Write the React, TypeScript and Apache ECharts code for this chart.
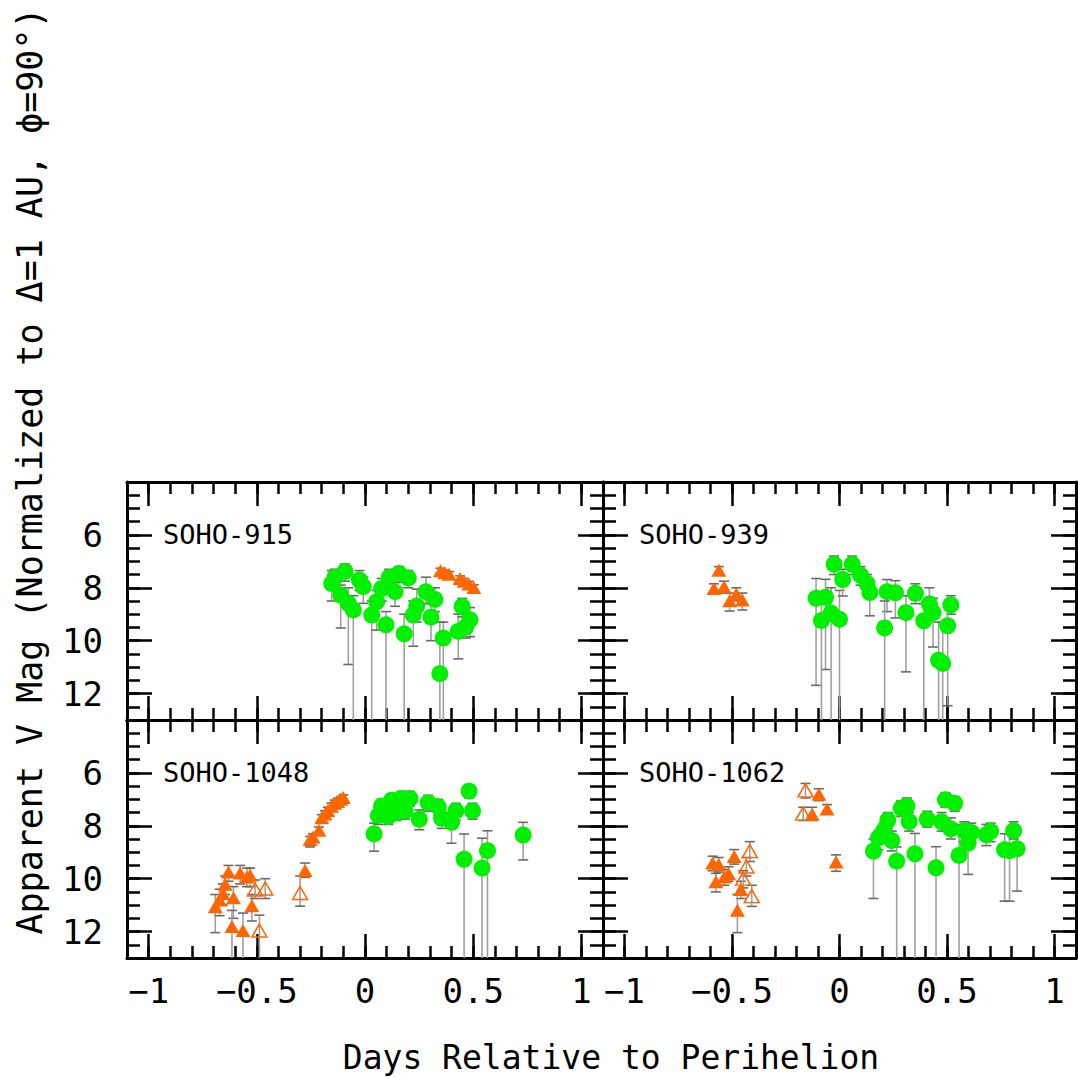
import React, { useEffect, useRef } from "react";
import * as echarts from "echarts";

// ---- data: [day, mag, magBrightBound, magFaintBound] ----
const soho915Green: number[][] = [
  [-0.154, 7.84, 7.35, 8.5], [-0.139, 7.61, 7.3, 8.0], [-0.092, 7.38, 7.1, 7.75],
  [-0.112, 8.28, 7.9, 9.52], [-0.077, 8.59, 8.0, 10.9], [-0.054, 8.84, 8.3, 14],
  [-0.026, 7.71, 7.35, 8.1], [-0.008, 7.96, 7.6, 8.59], [0.031, 9.03, 8.5, 14],
  [0.054, 8.53, 8.1, 9.6], [0.077, 8.03, 7.65, 8.5], [0.097, 9.4, 8.9, 14],
  [0.112, 7.61, 7.3, 8.0], [0.139, 8.15, 7.8, 8.7], [0.157, 7.46, 7.2, 7.8],
  [0.2, 7.63, 7.35, 8.0], [0.181, 9.74, 9.0, 14], [0.223, 9.03, 8.5, 10.21],
  [0.239, 8.69, 8.05, 9.3], [0.282, 8.15, 7.6, 8.6], [0.323, 8.44, 8.0, 8.9],
  [0.305, 9.11, 8.6, 10.0], [0.362, 9.9, 9.3, 14], [0.346, 11.25, 9.3, 14],
  [0.431, 9.65, 9.0, 10.69], [0.449, 8.71, 8.4, 9.1], [0.485, 9.21, 8.75, 9.85],
  [0.465, 9.49, 9.0, 9.9],
];
const soho915Filled: number[][] = [
  [0.349, 7.36, 7.26, 7.46], [0.369, 7.43, 7.33, 7.53], [0.389, 7.49, 7.39, 7.59],
  [0.439, 7.65, 7.55, 7.75], [0.458, 7.75, 7.65, 7.85], [0.48, 7.86, 7.76, 7.96],
  [0.503, 7.99, 7.89, 8.09],
];
const soho915Open: number[][] = [];

const soho939Green: number[][] = [
  [-0.109, 8.4, 7.65, 11.69], [-0.065, 8.36, 7.68, 11.09], [-0.084, 9.24, 8.6, 14],
  [-0.039, 8.96, 8.0, 14], [0.0, 9.19, 8.1, 14], [-0.025, 7.11, 6.8, 7.5],
  [0.015, 7.69, 7.3, 8.31], [0.059, 7.11, 6.8, 7.5], [0.098, 7.53, 7.2, 7.9],
  [0.128, 7.84, 7.5, 8.2], [0.141, 8.18, 7.8, 9.06], [0.221, 8.15, 7.69, 8.9],
  [0.26, 8.19, 7.73, 9.14], [0.21, 9.52, 8.5, 14], [0.309, 8.94, 8.3, 11.18],
  [0.353, 8.21, 7.85, 8.6], [0.418, 8.61, 8.0, 9.2], [0.435, 8.94, 8.4, 10.24],
  [0.392, 9.25, 8.6, 14], [0.461, 10.74, 9.3, 14], [0.48, 10.86, 9.3, 14],
  [0.518, 8.65, 8.3, 9.0], [0.503, 9.44, 8.6, 12.46],
];
const soho939Filled: number[][] = [
  [-0.561, 7.34, 7.2, 7.5], [-0.584, 8.03, 7.85, 8.24], [-0.537, 7.96, 7.75, 8.2],
  [-0.511, 8.49, 8.2, 8.88], [-0.48, 8.24, 8.0, 8.5], [-0.452, 8.46, 8.2, 8.84],
];
const soho939Open: number[][] = [];

const soho1048Green: number[][] = [
  [0.042, 8.31, 7.9, 8.96], [0.062, 7.62, 7.3, 7.95], [0.077, 7.25, 7.0, 7.6],
  [0.085, 7.31, 7.0, 7.65], [0.108, 7.65, 7.35, 7.95], [0.123, 7.03, 6.8, 7.3],
  [0.146, 7.5, 7.2, 7.8], [0.169, 6.97, 6.7, 7.25], [0.185, 7.44, 7.15, 7.75],
  [0.208, 6.97, 6.7, 7.25], [0.251, 7.75, 7.4, 8.15], [0.292, 7.13, 6.85, 7.45],
  [0.338, 7.28, 7.0, 7.6], [0.354, 7.72, 7.4, 8.1], [0.4, 7.87, 7.5, 8.66],
  [0.42, 7.44, 7.15, 7.8], [0.481, 6.69, 6.45, 6.95], [0.497, 7.44, 7.15, 7.75],
  [0.458, 9.27, 8.31, 14], [0.541, 9.6, 8.47, 14], [0.566, 8.94, 8.19, 14],
  [0.731, 8.35, 7.87, 9.29],
];
const soho1048Filled: number[][] = [
  [-0.692, 11.06, 10.6, 12.04], [-0.672, 10.81, 10.4, 11.4], [-0.657, 10.56, 10.2, 11.0],
  [-0.646, 10.21, 9.9, 10.6], [-0.631, 9.75, 9.5, 10.1], [-0.608, 10.72, 10.3, 11.5],
  [-0.615, 11.81, 11.2, 14], [-0.577, 9.79, 9.5, 10.2], [-0.564, 11.96, 11.3, 14],
  [-0.546, 9.94, 9.6, 10.3], [-0.531, 9.87, 9.6, 10.3], [-0.523, 11.02, 10.6, 11.6],
  [-0.277, 9.69, 9.41, 9.95], [-0.254, 8.52, 8.4, 8.8], [-0.24, 8.42, 8.3, 8.6],
  [-0.213, 8.17, 8.05, 8.3], [-0.2, 7.7, 7.58, 7.82], [-0.185, 7.55, 7.43, 7.67],
  [-0.172, 7.42, 7.3, 7.54], [-0.155, 7.26, 7.14, 7.38], [-0.14, 7.15, 7.03, 7.27],
  [-0.127, 7.08, 6.96, 7.2], [-0.112, 7.0, 6.9, 7.1], [-0.1, 6.93, 6.83, 7.03],
];
const soho1048Open: number[][] = [
  [-0.508, 10.41, 10.05, 10.75], [-0.461, 10.37, 10.0, 10.75],
  [-0.3, 10.54, 9.9, 11.04], [-0.488, 11.96, 11.38, 14],
];

const soho1062Green: number[][] = [
  [0.158, 8.96, 8.5, 10.75], [0.181, 8.46, 8.2, 8.9], [0.205, 8.19, 7.9, 8.55],
  [0.225, 7.79, 7.5, 8.1], [0.243, 8.56, 8.2, 8.95], [0.266, 9.34, 8.8, 14],
  [0.287, 7.34, 7.05, 7.65], [0.313, 7.25, 6.95, 7.55], [0.324, 7.84, 7.5, 8.2],
  [0.351, 9.06, 8.29, 14], [0.408, 7.75, 7.45, 8.05], [0.449, 9.59, 8.79, 14],
  [0.475, 7.85, 7.5, 8.2], [0.493, 7.02, 6.75, 7.3], [0.536, 7.15, 6.9, 7.45],
  [0.518, 8.12, 7.7, 8.5], [0.556, 9.12, 7.95, 14], [0.58, 8.19, 7.85, 8.6],
  [0.613, 8.25, 7.9, 8.65], [0.598, 8.66, 8.2, 9.84], [0.683, 8.34, 7.95, 8.75],
  [0.703, 8.21, 7.9, 8.6], [0.768, 8.91, 8.3, 10.85], [0.791, 8.94, 8.3, 10.85],
  [0.826, 8.87, 8.2, 10.47], [0.81, 8.19, 7.85, 8.5],
];
const soho1062Filled: number[][] = [
  [-0.59, 9.41, 9.15, 9.7], [-0.562, 9.46, 9.2, 9.75], [-0.575, 10.12, 9.8, 10.5],
  [-0.536, 9.94, 9.65, 10.25], [-0.516, 9.81, 9.55, 10.1], [-0.49, 9.16, 8.9, 9.45],
  [-0.459, 10.41, 10.1, 10.75], [-0.475, 11.19, 10.6, 12.04], [-0.127, 7.56, 7.3, 7.8],
  [-0.096, 6.81, 6.6, 7.05], [-0.058, 7.37, 7.2, 7.55], [-0.016, 9.37, 9.1, 9.72],
];
const soho1062Open: number[][] = [
  [-0.417, 8.96, 8.6, 9.35], [-0.433, 9.54, 9.2, 9.9], [-0.448, 10.0, 9.7, 10.35],
  [-0.408, 10.66, 10.25, 11.05], [-0.158, 6.66, 6.4, 6.95], [-0.169, 7.54, 7.3, 7.8],
];

const panelNames = ["SOHO-915", "SOHO-939", "SOHO-1048", "SOHO-1062"];
const xMajorTicks = [-1, -0.5, 0, 0.5, 1];
const yMajorTicks = [6, 8, 10, 12];
const X_MIN = -1.1;
const X_MAX = 1.1;
const Y_MIN = 4;
const Y_MAX = 13;
const xTitle = "Days Relative to Perihelion";
const yTitle = "Apparent V Mag (Normalized to \u0394=1 AU, \u03d5=90\u00b0)";

const FONT = "'DejaVu Sans Mono', monospace";
const GREEN = "#00f000";
const ORANGE = "#ff6600";

const xMinorTicks: number[] = [];
for (let i = -10; i <= 10; i++) xMinorTicks.push(i / 10);
const yMinorTicks: number[] = [];
for (let v = 9; v <= 25; v++) yMinorTicks.push(v / 2);

const gridBoxes = [
  { left: 127, top: 482, width: 476, height: 238 },
  { left: 603, top: 482, width: 473, height: 238 },
  { left: 127, top: 720, width: 476, height: 238 },
  { left: 603, top: 720, width: 473, height: 238 },
];

const minusFmt = (v: number) => String(v).replace("-", "\u2212");

const renderErr = (_params: any, api: any) => {
  const x = api.value(0);
  const lo = api.value(1);
  const hi = api.value(2);
  const clipped = hi >= Y_MAX;
  const p1 = api.coord([x, Math.max(lo, Y_MIN)]);
  const p2 = api.coord([x, Math.min(hi, Y_MAX)]);
  const w = 5;
  const children: any[] = [
    { type: "line", shape: { x1: p1[0], y1: p1[1], x2: p2[0], y2: p2[1] }, style: { stroke: "#a0a0a0", lineWidth: 1.6 } },
    { type: "line", shape: { x1: p1[0] - w, y1: p1[1], x2: p1[0] + w, y2: p1[1] }, style: { stroke: "#6a6a6a", lineWidth: 1.6 } },
  ];
  if (!clipped) {
    children.push({ type: "line", shape: { x1: p2[0] - w, y1: p2[1], x2: p2[0] + w, y2: p2[1] }, style: { stroke: "#6a6a6a", lineWidth: 1.6 } });
  }
  return { type: "group", children };
};

function buildOption() {
  const panelData = [
    { green: soho915Green, filled: soho915Filled, open: soho915Open },
    { green: soho939Green, filled: soho939Filled, open: soho939Open },
    { green: soho1048Green, filled: soho1048Filled, open: soho1048Open },
    { green: soho1062Green, filled: soho1062Filled, open: soho1062Open },
  ];
  const grid: any[] = [];
  const xAxis: any[] = [];
  const yAxis: any[] = [];
  const series: any[] = [];
  const graphic: any[] = [];

  gridBoxes.forEach((g, p) => {
    grid.push({ ...g, containLabel: false, show: false });
    const bottomRow = p >= 2;
    const leftCol = p % 2 === 0;
    const baseX = {
      type: "value", gridIndex: p, min: X_MIN, max: X_MAX,
      splitLine: { show: false }, axisLine: { show: false, onZero: false },
      axisLabel: { show: false }, axisPointer: { show: false },
    };
    const majorX = (position: string, labels: boolean) => ({
      ...baseX, position,
      axisLine: { show: true, onZero: false, lineStyle: { color: "#000", width: 3 } },
      axisTick: { show: true, inside: true, length: 24, customValues: xMajorTicks, lineStyle: { color: "#000", width: 2.5 } },
      axisLabel: labels
        ? { show: true, customValues: xMajorTicks, formatter: minusFmt, fontFamily: FONT, fontSize: 34, color: "#000", margin: 16 }
        : { show: false },
    });
    const minorX = (position: string) => ({
      ...baseX, position,
      axisTick: { show: true, inside: true, length: 12, customValues: xMinorTicks, lineStyle: { color: "#000", width: 2.5 } },
    });
    xAxis.push(majorX("bottom", bottomRow), minorX("bottom"), majorX("top", false), minorX("top"));

    const baseY = {
      type: "value", gridIndex: p, min: Y_MIN, max: Y_MAX, inverse: true,
      splitLine: { show: false }, axisLine: { show: false, onZero: false },
      axisLabel: { show: false }, axisPointer: { show: false },
    };
    const majorY = (position: string, labels: boolean) => ({
      ...baseY, position,
      axisLine: { show: true, onZero: false, lineStyle: { color: "#000", width: 3 } },
      axisTick: { show: true, inside: true, length: 25, customValues: yMajorTicks, lineStyle: { color: "#000", width: 2.5 } },
      axisLabel: labels
        ? { show: true, customValues: yMajorTicks, fontFamily: FONT, fontSize: 34, color: "#000", margin: 24 }
        : { show: false },
    });
    const minorY = (position: string) => ({
      ...baseY, position,
      axisTick: { show: true, inside: true, length: 13, customValues: yMinorTicks, lineStyle: { color: "#000", width: 2.5 } },
    });
    yAxis.push(majorY("left", leftCol), minorY("left"), majorY("right", false), minorY("right"));

    const xi = 4 * p;
    const d = panelData[p];
    const allPts = [...d.green, ...d.filled, ...d.open];
    series.push({
      type: "custom", xAxisIndex: xi, yAxisIndex: xi, silent: true, z: 1,
      data: allPts.map((r) => [r[0], r[2], r[3]]),
      encode: { x: 0, y: [1, 2] },
      renderItem: renderErr,
    });
    series.push({
      type: "scatter", xAxisIndex: xi, yAxisIndex: xi, silent: true, z: 3,
      symbol: "circle", symbolSize: 17,
      itemStyle: { color: GREEN, opacity: 1 },
      data: d.green.map((r) => [r[0], r[1]]),
    });
    series.push({
      type: "scatter", xAxisIndex: xi, yAxisIndex: xi, silent: true, z: 3,
      symbol: "triangle", symbolSize: [15, 13],
      itemStyle: { color: ORANGE, opacity: 1 },
      data: d.filled.map((r) => [r[0], r[1]]),
    });
    series.push({
      type: "scatter", xAxisIndex: xi, yAxisIndex: xi, silent: true, z: 3,
      symbol: "triangle", symbolSize: [15, 13],
      itemStyle: { color: "rgba(255,255,255,0)", borderColor: ORANGE, borderWidth: 1.5, opacity: 1 },
      data: d.open.map((r) => [r[0], r[1]]),
    });

    graphic.push({
      type: "text", left: g.left + 36, top: g.top + 53 - 14, z: 10,
      style: { text: panelNames[p], fontFamily: FONT, fontSize: 27, fill: "#000" },
    });
  });

  graphic.push({
    type: "text", x: 30, y: 471, rotation: Math.PI / 2, z: 10,
    style: { text: yTitle, fontFamily: FONT, fontSize: 35, fill: "#000", align: "center", verticalAlign: "middle" },
  });
  graphic.push({
    type: "text", x: 611, y: 1057, z: 10,
    style: { text: xTitle, fontFamily: FONT, fontSize: 33, fill: "#000", align: "center", verticalAlign: "middle" },
  });

  return {
    animation: false,
    backgroundColor: "#ffffff",
    grid, xAxis, yAxis, series, graphic,
  };
}

export default function App() {
  const ref = useRef<HTMLDivElement>(null);
  useEffect(() => {
    if (!ref.current) return;
    const chart = echarts.init(ref.current, undefined, { renderer: "svg" });
    chart.setOption(buildOption() as any);
    return () => chart.dispose();
  }, []);
  return (
    <div
      ref={ref}
      style={{ position: "absolute", left: 0, top: 0, width: 1078, height: 1078, background: "#fff" }}
    />
  );
}
